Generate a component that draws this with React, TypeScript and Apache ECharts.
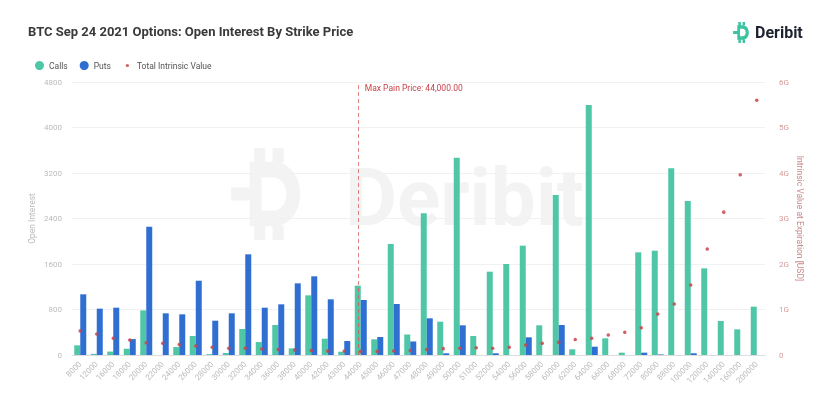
import React, { useEffect, useRef } from "react";
import * as echarts from "echarts";

const strikes = ["8000","12000","16000","18000","20000","22000","24000","26000","28000","30000","32000","34000","36000","38000","40000","42000","43000","44000","45000","46000","47000","48000","49000","50000","51000","52000","54000","56000","58000","60000","62000","64000","66000","68000","72000","80000","88000","100000","120000","140000","160000","200000"];
const calls = [170,20,60,110,785,0,140,334,15,35,457,228,527,117,1049,287,58,1219,276,1951,360,2491,586,3469,334,1465,1600,1922,522,2813,100,4395,293,41,1805,1834,3282,2707,1524,598,451,850];
const puts = [1067,815,832,280,2256,733,715,1306,603,733,1770,832,891,1260,1383,979,246,967,316,897,238,645,30,522,0,30,0,311,0,527,0,146,0,0,41,10,0,30,0,0,0,0];
const intrinsicG = [0.53,0.46,0.37,0.33,0.27,0.26,0.23,0.2,0.17,0.15,0.15,0.13,0.12,0.11,0.1,0.09,0.09,0.08,0.08,0.09,0.1,0.12,0.14,0.15,0.16,0.15,0.17,0.22,0.26,0.28,0.34,0.37,0.44,0.5,0.6,0.9,1.12,1.54,2.33,3.14,3.96,5.6];
const maxPainStrike = "44000";
const leftTicks = { min: 0, max: 4800, interval: 800 };
const rightTicks = { min: 0, max: 6e9, interval: 1e9 };

const GREEN = "#4fc7a6";
const BLUE = "#2f6fd2";
const RED = "#c9434a";

const logoD =
  "M6 3 L11 3 C19 3 19 17 11 17 L6 17 Z M8.6 6.4 L8.6 13.6 L11 13.6 C15 13.6 15 6.4 11 6.4 Z M2 8.6 L6 8.6 L6 11.4 L2 11.4 Z M7 0 L9.4 0 L9.4 3 L7 3 Z M11 0 L13.4 0 L13.4 3.2 L11 3.2 Z M7 17 L9.4 17 L9.4 20 L7 20 Z M11 16.8 L13.4 16.8 L13.4 20 L11 20 Z";

const smallDot =
  "image://data:image/svg+xml;utf8," +
  encodeURIComponent('<svg xmlns="http://www.w3.org/2000/svg" width="10" height="10"><circle cx="5" cy="5" r="1.8" fill="#c9434a"/></svg>');

export default function App() {
  const ref = useRef<HTMLDivElement>(null);
  useEffect(() => {
    if (!ref.current) return;
    try {
      echarts.graphic.registerShape("deribitLogo", echarts.graphic.extendPath(logoD, {}) as any);
    } catch (e) {}
    const chart = echarts.init(ref.current, undefined, { renderer: "svg" });
    const font = "Roboto, 'Noto Sans', sans-serif";
    chart.setOption({
      animation: false,
      textStyle: { fontFamily: font },
      title: {
        text: "BTC Sep 24 2021 Options: Open Interest By Strike Price",
        left: 23,
        top: 20,
        textStyle: { fontSize: 13, fontWeight: "bold", color: "#3a3a3a", fontFamily: font },
      },
      legend: {
        left: 30,
        top: 56,
        itemWidth: 9,
        itemHeight: 9,
        itemGap: 12,
        textStyle: { fontSize: 8.5, color: "#555" },
        data: [
          { name: "Calls", icon: "circle" },
          { name: "Puts", icon: "circle" },
          { name: "Total Intrinsic Value", icon: smallDot },
        ],
      },
      grid: { left: 72, right: 67, top: 82, bottom: 59 },
      xAxis: {
        type: "category",
        data: strikes,
        axisLine: { lineStyle: { color: "#ddd" } },
        axisTick: { show: false },
        axisLabel: { rotate: 45, fontSize: 8, color: "#bbb", interval: 0, margin: 8 },
      },
      yAxis: [
        {
          type: "value",
          ...leftTicks,
          name: "Open Interest",
          nameLocation: "middle",
          nameGap: 36,
          nameMoveOverlap: false,
          nameTextStyle: { color: "#bbb", fontSize: 8.5 },
          axisLabel: { color: "#bbb", fontSize: 8, margin: 10, formatter: (v: number) => String(v) },
          splitLine: { lineStyle: { color: "#f1f1f1" } },
          axisLine: { show: false },
          axisTick: { show: false },
        },
        {
          type: "value",
          ...rightTicks,
          name: "Intrinsic Value at Expiration [USD]",
          nameLocation: "middle",
          nameGap: 30,
          nameMoveOverlap: false,
          nameRotate: -90,
          nameTextStyle: { color: "#c98a8a", fontSize: 8.5 },
          axisLabel: {
            color: "#d49a9a",
            fontSize: 8,
            margin: 14,
            formatter: (v: number) => (v === 0 ? "0" : v / 1e9 + "G"),
          },
          splitLine: { show: false },
          axisLine: { show: false },
          axisTick: { show: false },
        },
      ],
      series: [
        {
          name: "Calls",
          type: "bar",
          data: calls,
          barWidth: 6,
          barGap: "0%",
          itemStyle: { color: GREEN },
          z: 3,
          markLine: {
            symbol: "none",
            silent: true,
            lineStyle: { color: "#d9534f", type: [4, 3], width: 0.8, opacity: 0.9 },
            label: { show: false },
            data: [{ xAxis: maxPainStrike }],
          },
        },
        {
          name: "Puts",
          type: "bar",
          data: puts,
          barWidth: 6,
          itemStyle: { color: BLUE },
          z: 3,
        },
        {
          name: "Total Intrinsic Value",
          type: "scatter",
          yAxisIndex: 1,
          data: intrinsicG.map((g) => g * 1e9),
          symbolSize: 3.5,
          itemStyle: { color: RED, opacity: 0.85 },
          z: 5,
        },
      ],
    });
    const x = chart.convertToPixel({ xAxisIndex: 0 }, maxPainStrike) as number;
    const yTop = chart.convertToPixel({ yAxisIndex: 0 }, leftTicks.max) as number;
    chart.setOption({
      graphic: [
        {
          type: "text",
          left: x + 4,
          top: yTop + 1,
          z: 10,
          style: { text: "Max Pain Price: 44,000.00", fontSize: 8.5, fill: "#c9434a", fontFamily: font },
        },
        {
          type: "deribitLogo",
          x: 222,
          y: 148,
          scaleX: 4.6,
          scaleY: 4.6,
          z: -10,
          style: { fill: "#f3f3f3" },
        },
        {
          type: "text",
          left: 345,
          top: 158,
          z: -10,
          style: { text: "Deribit", fontSize: 80, fontWeight: "bold", fill: "#f3f3f3", fontFamily: font },
        },
        {
          type: "deribitLogo",
          x: 731,
          y: 22,
          scaleX: 1.05,
          scaleY: 1.05,
          style: { fill: "#3cc4a0" },
        },
        {
          type: "text",
          left: 755,
          top: 24,
          style: { text: "Deribit", fontSize: 16, fontWeight: "bold", fill: "#1d2330", fontFamily: font },
        },
      ],
    });
    return () => chart.dispose();
  }, []);
  return <div ref={ref} style={{ position: "fixed", left: 0, top: 0, width: 832, height: 414 }} />;
}
